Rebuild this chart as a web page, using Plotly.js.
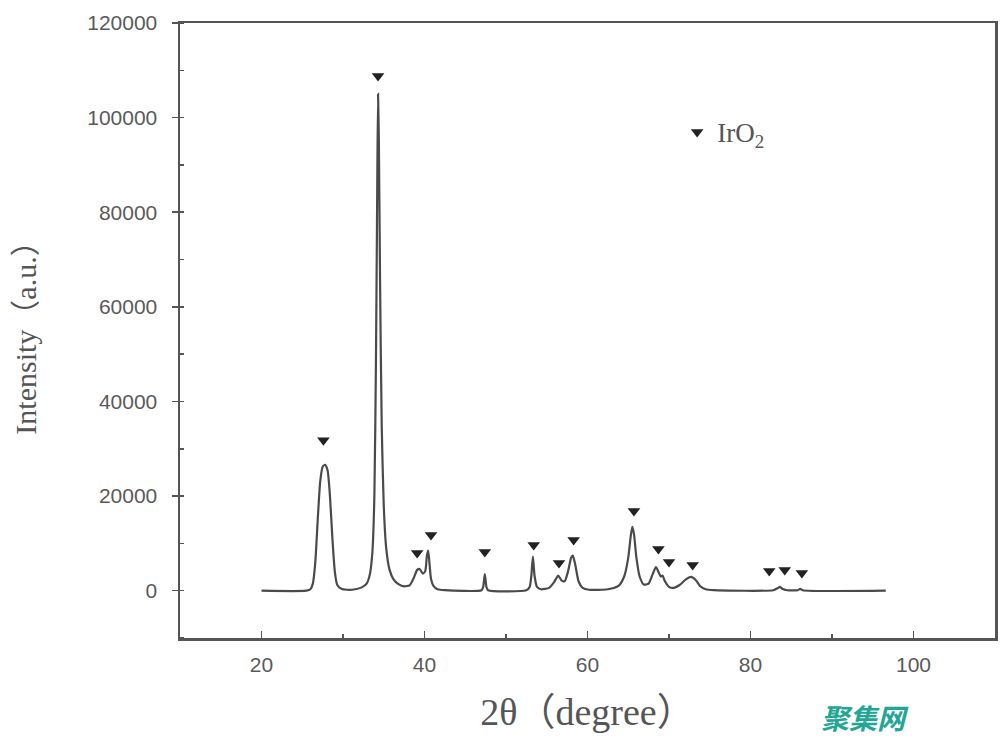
<!DOCTYPE html>
<html>
<head>
<meta charset="utf-8">
<script src="https://cdn.plot.ly/plotly-3.0.1.min.js"></script>
<style>html,body{margin:0;padding:0;background:#fff;}#chart{width:1000px;height:744px;}</style>
</head>
<body>
<div id="chart"></div>
<script>
// XRD pattern (2θ in degrees, intensity in a.u.)
const twoTheta = [20.0,25.5,26.0,26.3,26.6,26.9,27.2,27.5,27.8,28.1,28.4,28.7,29.0,29.3,29.8,30.5,31.5,32.3,32.9,33.3,33.6,33.85,34.05,34.2,34.3,34.4,34.55,34.75,35.0,35.3,35.7,36.2,36.8,37.5,38.2,38.7,39.1,39.4,39.8,40.1,40.3,40.45,40.6,40.8,41.1,41.6,42.5,47.0,47.2,47.4,47.6,47.8,52.5,52.9,53.1,53.3,53.5,53.8,54.3,55.3,55.9,56.4,56.8,57.2,57.6,58.0,58.2,58.5,58.9,59.4,60.2,62.5,63.8,64.5,65.0,65.3,65.5,65.7,66.0,66.4,66.9,67.5,68.0,68.4,68.7,69.0,69.2,69.5,70.0,70.6,71.3,72.0,72.7,73.3,73.8,74.5,75.5,82.8,83.3,83.6,83.9,84.5,85.8,86.1,86.4,96.6];
const intensity = [0,0,300,1500,6000,15000,23000,26200,26600,25500,20000,11000,4000,1200,400,200,300,700,1500,3500,8000,20000,50000,85000,105000,95000,65000,35000,18000,9000,4500,2400,1400,900,1200,2800,4400,4600,3600,4200,7500,8500,6000,2500,1000,300,100,100,800,3500,800,100,100,800,3000,7200,3200,800,300,600,1800,3200,2200,2000,4000,7000,7400,5500,2000,600,200,300,1000,3000,7000,11500,13500,12000,7000,3000,1300,1500,3500,5000,4000,3000,3200,2000,800,600,1200,2300,2900,2200,1000,300,100,100,500,800,400,100,100,400,100,0];

// IrO2 reflection markers
const markerTheta = [27.6,34.3,39.1,40.8,47.4,53.4,56.5,58.3,65.7,68.7,70.0,72.9,82.3,84.2,86.3];
const markerY = [31800,108800,7970,11780,8180,9650,5850,10720,16840,8810,6060,5450,4170,4380,3740];

// Axis ticks
const yTickVals = [0,20000,40000,60000,80000,100000,120000];
const yTickText = ["0","20000","40000","60000","80000","100000","120000"];
const xTickVals = [20,40,60,80,100];
const xTickText = ["20","40","60","80","100"];

const axisColor = '#555';
const tickFont = {family: 'Liberation Sans, Arial, sans-serif', size: 21, color: '#5a5a5a'};
const serif = 'Liberation Serif, Times New Roman, Noto Sans CJK SC, serif';

const traces = [
  {
    x: twoTheta, y: intensity, type: 'scatter', mode: 'lines',
    line: {color: '#4a4a4a', width: 2.2, shape: 'spline', smoothing: 0.6},
    showlegend: false, hoverinfo: 'x+y'
  },
  {
    x: markerTheta, y: markerY, type: 'scatter', mode: 'markers',
    name: 'IrO<sub>2</sub>',
    marker: {symbol: 'triangle-down', size: 11, color: '#222'},
    showlegend: true
  }
];

const layout = {
  width: 1000, height: 744,
  margin: {l: 180, r: 5, t: 23, b: 106},
  paper_bgcolor: '#fff', plot_bgcolor: '#fff',
  showlegend: true,
  legend: {
    x: 0.61, y: 0.862, xanchor: 'left', yanchor: 'top',
    bgcolor: 'rgba(0,0,0,0)',
    font: {family: serif, size: 27, color: '#555'},
    itemwidth: 30
  },
  xaxis: {
    range: [10, 110],
    tickvals: xTickVals, ticktext: xTickText,
    ticks: 'inside', ticklen: 7, tickwidth: 1.5, tickcolor: axisColor,
    minor: {dtick: 10, tick0: 10, ticks: 'inside', ticklen: 4, tickcolor: axisColor},
    showline: true, linecolor: axisColor, linewidth: 2.5, mirror: true,
    showgrid: false, zeroline: false,
    tickfont: tickFont, ticklabelstandoff: 6,
    title: {text: '2θ（degree）', font: {family: serif, size: 38, color: '#555'}, standoff: 24}
  },
  yaxis: {
    range: [-10000, 120000],
    tickvals: yTickVals, ticktext: yTickText,
    ticks: 'outside', ticklen: 6, tickwidth: 1.5, tickcolor: axisColor,
    minor: {dtick: 10000, tick0: 0, ticks: 'inside', ticklen: 4, tickcolor: axisColor},
    showline: true, linecolor: axisColor, linewidth: 2.5, mirror: true,
    showgrid: false, zeroline: false,
    tickfont: tickFont, ticklabelstandoff: 10,
    title: {text: 'Intensity（a.u.）', font: {family: serif, size: 30, color: '#555'}, standoff: 42}
  },
  annotations: [
    {
      text: '<b><i>聚集网</i></b>', xref: 'paper', yref: 'paper',
      x: 0.84, y: -0.128, xanchor: 'center', yanchor: 'middle', showarrow: false,
      font: {family: 'Noto Sans CJK SC', size: 28, color: '#22a696'}
    }
  ]
};

Plotly.newPlot('chart', traces, layout, {displayModeBar: false, staticPlot: true});
</script>
</body>
</html>
